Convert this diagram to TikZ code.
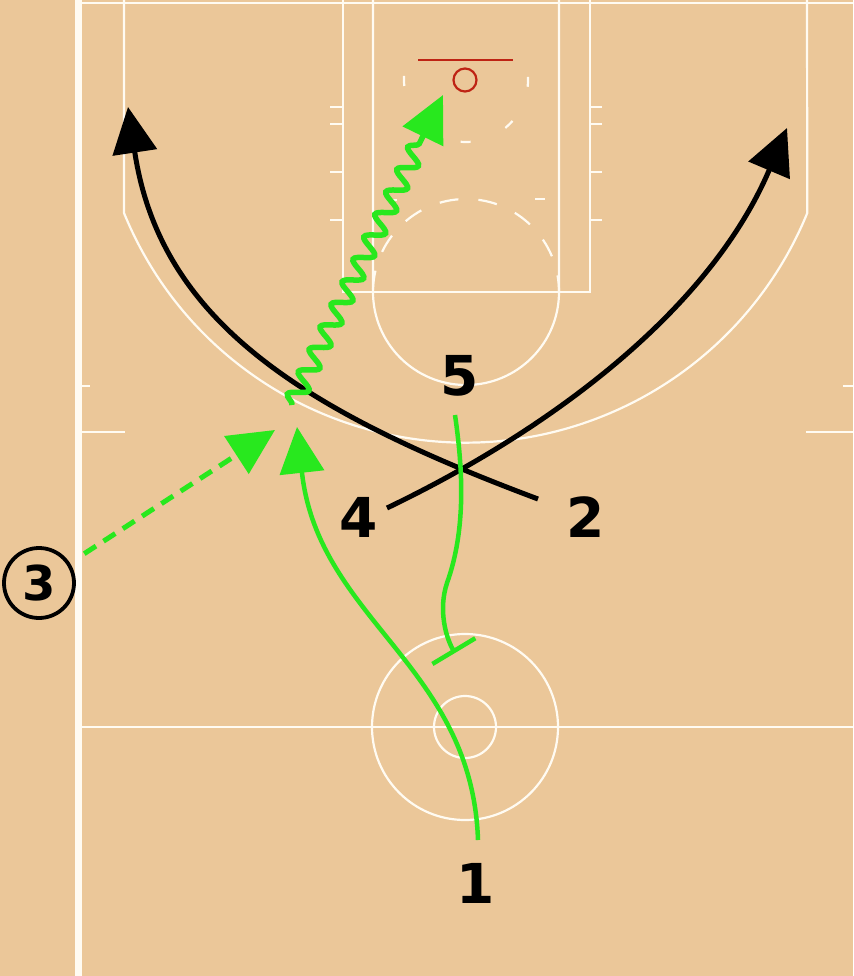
\documentclass[tikz,border=0pt]{standalone}
\usepackage{fontspec}
\setmainfont{DejaVu Sans}
\usetikzlibrary{arrows.meta,decorations.pathmorphing}
\definecolor{wood}{RGB}{235,199,153}
\definecolor{playgreen}{RGB}{40,232,30}
\definecolor{rimred}{RGB}{190,35,20}
\definecolor{courtline}{RGB}{255,251,242}
\tikzset{
	court/.style={courtline, line width=2.2pt},
	player/.style={font=\fontsize{55}{55}\bfseries\selectfont, inner sep=0pt},
	cut/.style={line width=5pt, -{Triangle[length=46pt,width=44pt]}},
	pass/.style={playgreen, line width=5pt, dash pattern=on 14pt off 9pt, -{Triangle[length=46pt,width=44pt]}},
	screen/.style={playgreen, line width=4.5pt, -{Bar[width=50pt]}},
	dribble/.style={playgreen, line width=5.5pt, decorate,
		decoration={snake, segment length=25pt, amplitude=9pt, post length=48pt},
		-{Triangle[length=46pt,width=44pt]}}
}
\begin{document}
\begin{tikzpicture}[x=1pt, y=-1pt]
		\useasboundingbox (0,0) rectangle (853,976);
		\fill[wood] (0,0) rectangle (853,976);

		\draw[courtline, line width=7pt] (78,0) -- (78,976);
		\draw[court] (82,3) -- (853,3);
		\draw[court] (82,727) -- (853,727);
		\draw[court] (465,727) circle (93);
		\draw[court] (465,727) circle (31);

		\draw[court] (124,0) -- (124,213) arc[start angle=157.8, end angle=22.2, radius=369] -- (807,0);
		\draw[court] (343,0) -- (343,292) -- (590,292) -- (590,0);
		\draw[court] (373,0) -- (373,292) arc[start angle=180, end angle=0, radius=93] -- (559,0);
		\draw[court, dash pattern=on 19pt off 20pt, dash phase=36.5pt] (373,292) arc[start angle=180, end angle=360, radius=93];
		\draw[court, dash pattern=on 10pt off 38pt] (404,76) -- (404,80) arc[start angle=180, end angle=0, radius=62] -- (528,76);
		\draw[court] (387,200) -- (397,200);
		\draw[court] (535,199) -- (545,199);
		\foreach \y in {107,124,172,220} {
			\draw[court] (330,\y) -- (343,\y);
			\draw[court] (590,\y) -- (602,\y);
		}
		\draw[court] (82,386) -- (90,386);
		\draw[court] (82,432) -- (125,432);
		\draw[court] (843,386) -- (853,386);
		\draw[court] (806,432) -- (853,432);

		\draw[rimred, line width=2.2pt] (418,60) -- (513,60);
		\draw[rimred, line width=2.2pt] (465,80) circle (11.5);

		\node[player] (p1) at (476,883) {1};
		\node[player] (p2) at (586,517) {2};
		\node[player] (p4) at (359,517) {4};
		\node[player] (p5) at (460,376) {5};
		\node[draw, circle, line width=3.8pt, minimum size=70pt, inner sep=0pt,
			font=\fontsize{48}{48}\bfseries\selectfont] (p3) at (39,583) {3};

		\coordinate (s2) at (538,499);
		\coordinate (e2) at (128,107);
		\coordinate (s4) at (387,508);
		\coordinate (e4) at (787,128);
		\coordinate (s1) at (478,840);
		\coordinate (e1) at (297,427);
		\coordinate (e3) at (275,430);
		\coordinate (s5) at (455,415);
		\coordinate (m5) at (447,583);
		\coordinate (e5) at (455,653);
		\coordinate (sd) at (292,405);
		\coordinate (ed) at (443,95);

		\draw[cut] (s2) .. controls (300,410) and (160,320) .. (e2);
		\draw[cut] (s4) .. controls (560,425) and (712,305) .. (e4);
		\draw[cut, playgreen, line width=4.5pt] (s1) .. controls (472,665) and (318,620) .. (e1);
		\draw[pass, shorten <=17pt] (p3) -- (e3);
		\draw[screen] (s5) .. controls (463,470) and (466,530) .. (m5)
			.. controls (438,610) and (446,638) .. (e5);
		\draw[dribble] (sd) -- (ed);
	\end{tikzpicture}
\end{document}
